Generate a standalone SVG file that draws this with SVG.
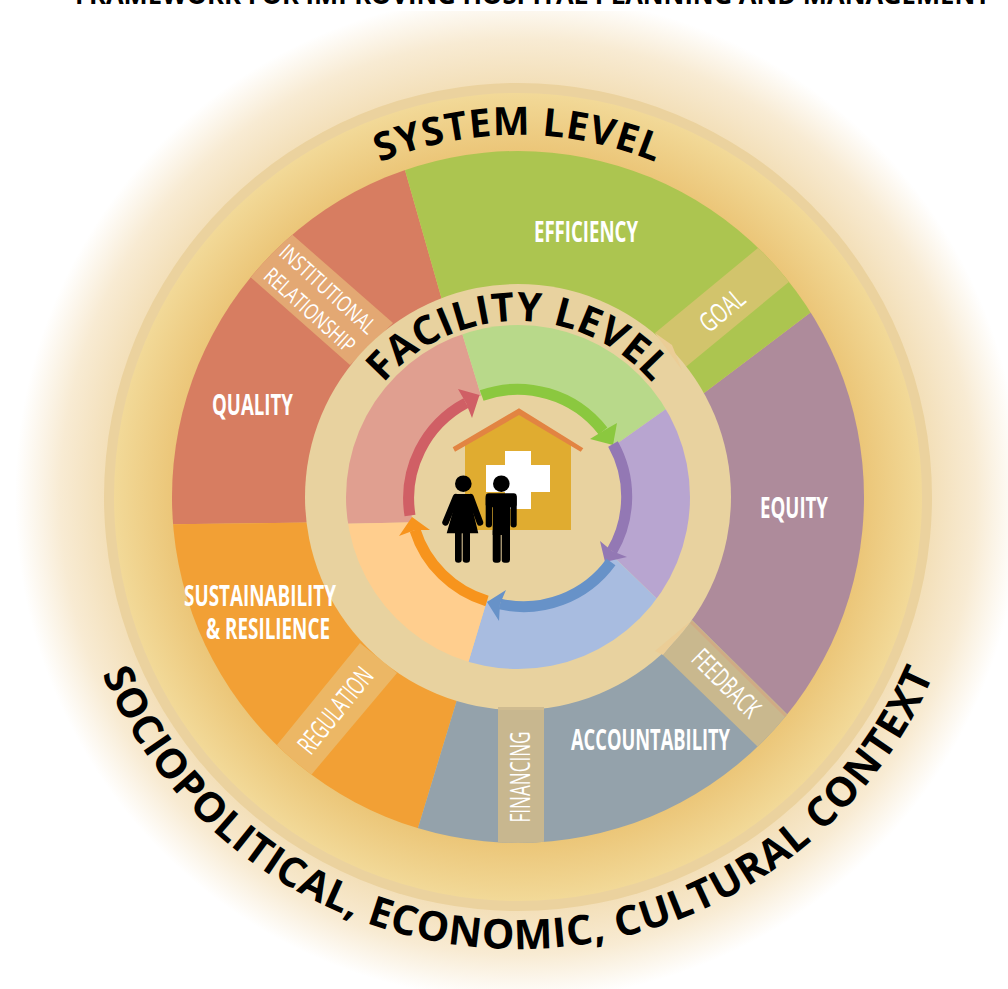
<svg xmlns="http://www.w3.org/2000/svg" width="1008" height="989" viewBox="0 0 1008 989">
<style>
.lab{font-family:"Open Sans","Liberation Sans",sans-serif;font-weight:700;font-size:28px;fill:#fff;text-anchor:middle}
.band{font-family:"Open Sans","Liberation Sans",sans-serif;font-weight:400;font-size:27px;fill:#fff;text-anchor:middle}
.curve{font-family:"Open Sans","Liberation Sans",sans-serif;font-weight:700;fill:#000;text-anchor:middle}
.arc{fill:none;stroke-width:11}
</style>
<defs>
<radialGradient id="glow" gradientUnits="userSpaceOnUse" cx="518" cy="497" r="503">
<stop offset="0.82" stop-color="#f3dfb8"/><stop offset="0.91" stop-color="#f8ebd3"/><stop offset="1" stop-color="#ffffff"/>
</radialGradient>
<radialGradient id="gold" gradientUnits="userSpaceOnUse" cx="518" cy="497" r="404">
<stop offset="0.85" stop-color="#ebc577"/><stop offset="1" stop-color="#f2d998"/>
</radialGradient>
<clipPath id="disc"><circle cx="518" cy="497" r="346"/></clipPath>
<clipPath id="innerDisc"><circle cx="518" cy="497" r="172"/></clipPath>
<path id="sysPath" d="M156,497 A362,362 0 0 1 880,497"/>
<path id="facPath" d="M342,497 A176,176 0 0 1 694,497"/>
<path id="ctxPath" d="M66,497 A452,452 0 0 0 970,497"/>
</defs>
<g id="background">
<circle cx="518" cy="497" r="503" fill="url(#glow)"/>
<rect x="0" y="0" width="1008" height="11" fill="#fff"/>
<circle cx="518" cy="497" r="414" fill="#ebd29e"/>
<circle cx="518" cy="497" r="404" fill="url(#gold)"/>
</g>
<g id="title"><text x="75" y="4" textLength="915" lengthAdjust="spacingAndGlyphs" font-family="Open Sans, Liberation Sans, sans-serif" font-weight="700" font-size="27" fill="#000">FRAMEWORK FOR IMPROVING HOSPITAL PLANNING AND MANAGEMENT</text></g>
<g id="system-level" clip-path="url(#disc)">
<polygon id="quality" points="518,520 100,525 100,100 385,100 442,300" fill="#d77d61"/>
<polygon id="sustainability" points="518,520 100,525 100,950 390,920 456,703" fill="#f2a035"/>
<polygon id="accountability" points="518,497 692,620 950,875 950,950 390,920 456,703" fill="#94a2ab"/>
<polygon id="equity" points="518,497 704,393 950,207 950,875 692,620" fill="#ae8b9b"/>
<polygon id="efficiency" points="518,497 442,300 385,100 950,100 950,207 704,393" fill="#acc550"/>
<polygon id="band-institutional" points="263,209 393,323 350,365 222,252" fill="#e3a873"/>
<polygon id="band-goal" points="787,224 655,333 682,370 818,258" fill="#d2c46c"/>
<polygon id="band-feedback" points="692,620 817,744 787,775 663,655" fill="#c9b88e"/>
<polygon id="band-regulation" points="360,643 250,778 285,806 397,673" fill="#ecb765"/>
<rect id="band-financing" x="498" y="707" width="46" height="150" fill="#c8b78f"/>
<line x1="691" y1="622" x2="786" y2="716" stroke="#d0ab84" stroke-width="3"/>
</g>
<g id="facility-ring">
<circle cx="518" cy="497" r="213" fill="#e8d29f"/>
<polygon points="655,333 682,370 672,345" fill="#ebcd96"/>
<polygon points="663,655 692,620 655,651" fill="#ebcd96"/>
<rect x="498" y="707" width="46" height="3" fill="#cfbb90"/>
</g>
<g id="facility-sectors" clip-path="url(#innerDisc)">
<polygon points="518,520 330,524 330,320 458,320 480,392" fill="#e09f90"/>
<polygon points="518,497 480,392 458,320 700,320 700,385 618,443" fill="#b8d98a"/>
<polygon points="518,497 618,443 700,385 710,650 617,560" fill="#b8a5d0"/>
<polygon points="518,497 617,560 710,650 700,690 460,690 485,607" fill="#a8bce0"/>
<polygon points="518,520 330,524 330,690 460,690 485,607" fill="#ffce8e"/>
</g>
<g id="hub"><circle cx="518" cy="497" r="108" fill="#e8d29f"/></g>
<g id="connectors">
<g id="arrow-green"><path class="arc" stroke="#8bc83f" d="M481.7,395.5 A108,108 0 0 1 603,431"/><polygon fill="#8bc83f" points="613,445 590,439 603,431 617,423"/></g>
<g id="arrow-purple"><path class="arc" stroke="#9378b4" d="M613,444 A108,108 0 0 1 612,551"/><polygon fill="#9378b4" points="605,562 600,541 612,551 627,557"/></g>
<g id="arrow-blue"><path class="arc" stroke="#6792c8" d="M611,562 A108,108 0 0 1 500,604"/><polygon fill="#6792c8" points="487,602 506,590 500,604 499,621"/></g>
<g id="arrow-orange"><path class="arc" stroke="#f7941d" d="M487,601 A108,108 0 0 1 415,530"/><polygon fill="#f7941d" points="412,517 399,536 415,530 430,530"/></g>
<g id="arrow-red"><path class="arc" stroke="#d05f65" d="M410,515.5 A108,108 0 0 1 466,403"/><polygon fill="#d05f65" points="479.5,395 458,389 466,403 472,418"/></g>
</g>
<g id="hospital">
<polygon points="465,443 518,414 571,443 571,530 465,530" fill="#e0ac30"/>
<polygon points="452.7,447.3 519,408.3 583.3,448.3 580.7,451.7 519,415 455,451.7" fill="#e28442"/>
<path d="M505,451H531V465H550V492H531V509H505V492H486V465H505Z" fill="#fff"/>
</g>
<g id="woman" fill="#000">
<circle cx="463.3" cy="483.7" r="8.3"/>
<polygon points="455,494 470.7,494 472.7,510 478.3,533.3 446.7,533.3 453.3,510"/>
<path d="M456,497 L445.5,522.5 M470.5,497 L480,522.5" stroke="#000" stroke-width="6.5" stroke-linecap="round" fill="none"/>
<rect x="455" y="530" width="6.7" height="32.7" rx="3.3"/>
<rect x="462.7" y="530" width="7.3" height="32.7" rx="3.3"/>
</g>
<g id="man" fill="#000">
<circle cx="501.3" cy="483.7" r="8.3"/>
<rect x="485.7" y="493.3" width="31" height="14" rx="3"/>
<rect x="485.7" y="495" width="6.3" height="32.5" rx="3"/>
<rect x="510.5" y="495" width="6.2" height="32.5" rx="3"/>
<rect x="492.7" y="495" width="17.3" height="40"/>
<rect x="492.7" y="528" width="8" height="34.7" rx="3"/>
<rect x="501.7" y="528" width="8.3" height="34.7" rx="3"/>
</g>
<g id="labels">
<text class="lab" x="586" y="242" textLength="104" lengthAdjust="spacingAndGlyphs">EFFICIENCY</text>
<text class="lab" x="252.5" y="415" textLength="81" lengthAdjust="spacingAndGlyphs">QUALITY</text>
<text class="lab" x="794" y="518" textLength="68" lengthAdjust="spacingAndGlyphs">EQUITY</text>
<text class="lab" x="260" y="606" textLength="152" lengthAdjust="spacingAndGlyphs">SUSTAINABILITY</text>
<text class="lab" x="268" y="639" textLength="124" lengthAdjust="spacingAndGlyphs">&amp; RESILIENCE</text>
<text class="lab" x="650.5" y="750" textLength="159" lengthAdjust="spacingAndGlyphs">ACCOUNTABILITY</text>
<text class="band" transform="translate(530,777) rotate(-90)" textLength="91" lengthAdjust="spacingAndGlyphs">FINANCING</text>
<text class="band" transform="translate(721.7,310) rotate(-40) translate(0,10)" textLength="50" lengthAdjust="spacingAndGlyphs">GOAL</text>
<text class="band" transform="translate(335,710) rotate(-51) translate(0,10)" textLength="102" lengthAdjust="spacingAndGlyphs">REGULATION</text>
<text class="band" transform="translate(726.7,683) rotate(45) translate(0,10)" textLength="84" lengthAdjust="spacingAndGlyphs">FEEDBACK</text>
<text class="band" style="font-size:22px" transform="translate(328,289) rotate(42) translate(0,8)" textLength="121" lengthAdjust="spacingAndGlyphs">INSTITUTIONAL</text>
<text class="band" style="font-size:22px" transform="translate(310,310) rotate(42) translate(0,8)" textLength="114" lengthAdjust="spacingAndGlyphs">RELATIONSHIP</text>
<text class="curve" font-size="39" letter-spacing="1"><textPath href="#sysPath" startOffset="50%">SYSTEM LEVEL</textPath></text>
<text class="curve" font-size="40" letter-spacing="0.5"><textPath href="#facPath" startOffset="50%">FACILITY LEVEL</textPath></text>
<text class="curve" font-size="41" letter-spacing="0.8"><textPath href="#ctxPath" startOffset="50%">SOCIOPOLITICAL, ECONOMIC, CULTURAL CONTEXT</textPath></text>
</g>
</svg>
